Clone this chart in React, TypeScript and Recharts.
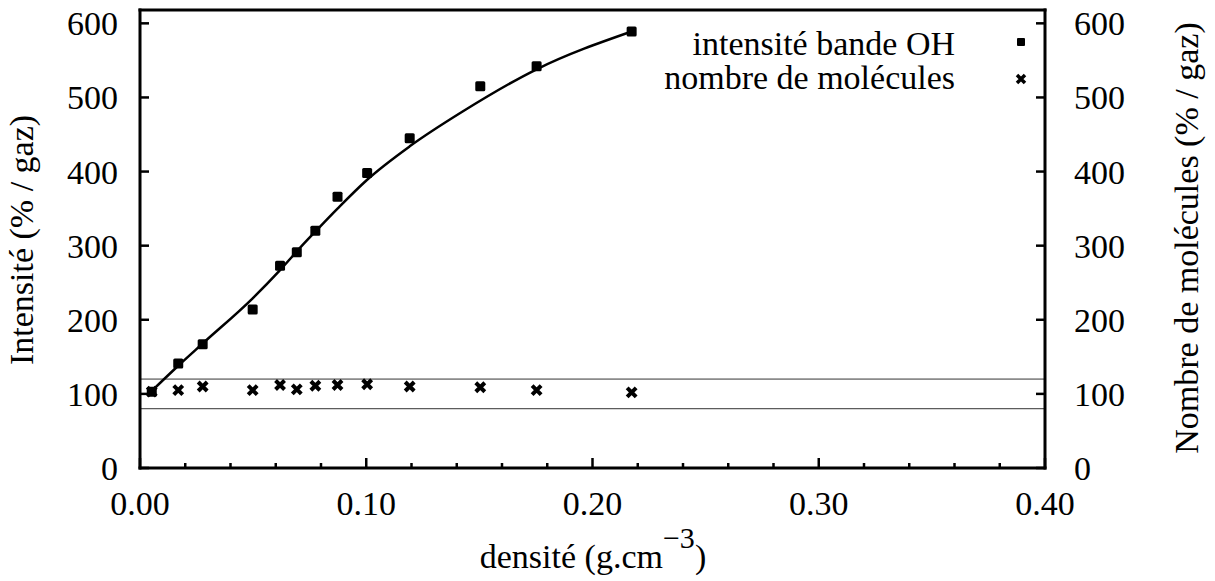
import {
    ComposedChart,
    Line,
    Scatter,
    XAxis,
    YAxis,
    ReferenceLine,
    Legend,
} from "recharts";

// densité (g.cm-3) of the measured samples
const densite = [0.0052, 0.0169, 0.0277, 0.0498, 0.0619, 0.0693, 0.0775, 0.0873, 0.1004, 0.1192, 0.1504, 0.1753, 0.2173];
const intensiteOH = [103, 141, 167, 214, 273, 291, 320, 366, 398, 445, 515, 542, 589];
const nombreMolecules = [103, 105, 110, 105, 112, 106, 111, 112, 113, 110, 109, 105, 102];

// fitted curve
const fitDensite = [0.0035, 0.0169, 0.0277, 0.0498, 0.0619, 0.0707, 0.0775, 0.0873, 0.1004, 0.1192, 0.1426, 0.1753, 0.2173];
const fitIntensite = [99, 138, 168, 229, 267, 297, 319, 350, 389, 434, 481, 538, 589];

const xTicks = [0, 0.02, 0.04, 0.06, 0.08, 0.1, 0.12, 0.14, 0.16, 0.18, 0.2, 0.22, 0.24, 0.26, 0.28, 0.3, 0.32, 0.34, 0.36, 0.38, 0.4];
const yTicks = [0, 100, 200, 300, 400, 500, 600];
const bandLimits = [80, 120];

const ohPoints = densite.map((x, i) => ({ x, y: intensiteOH[i] }));
const molPoints = densite.map((x, i) => ({ x, y: nombreMolecules[i] }));
const fitPoints = fitDensite.map((x, i) => ({ x, y: fitIntensite[i] }));

const FONT = "Liberation Serif, DejaVu Serif, serif";
const isMajor = (v: number) => Math.round(v * 100) % 10 === 0;

const BottomTick = ({ x, y, payload }: any) => {
    const major = isMajor(payload.value);
    return (
        <g>
            <line x1={x} x2={x} y1={y} y2={y - (major ? 10 : 5)} stroke="#000" strokeWidth={2.5} />
            {major && (
                <text x={x} y={y + 47} textAnchor="middle" style={{ fontFamily: FONT }} fontSize={34} fill="#000">
                    {payload.value.toFixed(2)}
                </text>
            )}
        </g>
    );
};

const TopTick = ({ x, y, payload }: any) => {
    const major = isMajor(payload.value);
    return <line x1={x} x2={x} y1={y} y2={y + (major ? 10 : 5)} stroke="#000" strokeWidth={2.5} />;
};

const LeftTick = ({ x, y, payload }: any) => (
    <g>
        <line x1={x} x2={x + 9} y1={y} y2={y} stroke="#000" strokeWidth={2.5} />
        <text x={x - 22} y={y + 12} textAnchor="end" style={{ fontFamily: FONT }} fontSize={34} fill="#000">
            {payload.value}
        </text>
    </g>
);

const RightTick = ({ x, y, payload }: any) => (
    <g>
        <line x1={x} x2={x - 9} y1={y} y2={y} stroke="#000" strokeWidth={2.5} />
        <text x={x + 29} y={y + 12} textAnchor="start" style={{ fontFamily: FONT }} fontSize={34} fill="#000">
            {payload.value}
        </text>
    </g>
);

const SquareDot = ({ cx, cy }: any) => (
    <rect x={cx - 5} y={cy - 5} width={10} height={10} rx={1.5} fill="#000" />
);

const CrossDot = ({ cx, cy }: any) => (
    <path
        d={`M${cx - 4.5},${cy - 4.5}L${cx + 4.5},${cy + 4.5}M${cx - 4.5},${cy + 4.5}L${cx + 4.5},${cy - 4.5}`}
        stroke="#000"
        strokeWidth={4}
    />
);

const renderLegend = ({ payload }: any) => (
    <div style={{ fontFamily: FONT, fontSize: 34, color: "#000" }}>
        {(payload || [])
            .filter((entry: any) => entry.type !== "none")
            .map((entry: any, index: number) => (
                <div key={`item-${index}`} style={{ position: "relative", height: 34, lineHeight: "34px" }}>
                    <span style={{ position: "absolute", right: 90, whiteSpace: "nowrap" }}>{entry.value}</span>
                    <svg width={14} height={14} style={{ position: "absolute", right: 17, top: index === 0 ? 8 : 11 }}>
                        {index === 0 ? (
                            <rect x={3} y={3} width={8} height={8} rx={1} fill="#000" />
                        ) : (
                            <path d="M3,3L11,11M3,11L11,3" stroke="#000" strokeWidth={3.5} />
                        )}
                    </svg>
                </div>
            ))}
    </div>
);

export default function App() {
    return (
        <div style={{ position: "absolute", left: 0, top: 0, width: 1215, height: 581, background: "#fff" }}>
            <ComposedChart width={1215} height={581} margin={{ top: 0, right: 110, bottom: 63, left: 80 }}>
                <XAxis
                    xAxisId="x"
                    dataKey="x"
                    type="number"
                    domain={[0, 0.4]}
                    ticks={xTicks}
                    interval={0}
                    height={50}
                    tickSize={0}
                    tickMargin={0}
                    tickLine={false}
                    axisLine={{ stroke: "#000", strokeWidth: 3, strokeLinecap: "square" }}
                    tick={<BottomTick />}
                    label={{
                        content: () => (
                            <text x={593} y={568} textAnchor="middle" style={{ fontFamily: FONT }} fontSize={34} fill="#000">
                                densité (g.cm
                                <tspan dy={-20} fontSize={30}>−3</tspan>
                                <tspan dy={20}>)</tspan>
                            </text>
                        ),
                    }}
                />
                <XAxis
                    xAxisId="top"
                    dataKey="x"
                    type="number"
                    orientation="top"
                    domain={[0, 0.4]}
                    ticks={xTicks}
                    interval={0}
                    height={10}
                    tickSize={0}
                    tickMargin={0}
                    tickLine={false}
                    axisLine={{ stroke: "#000", strokeWidth: 3, strokeLinecap: "square" }}
                    tick={<TopTick />}
                />
                <YAxis
                    yAxisId="left"
                    dataKey="y"
                    type="number"
                    domain={[0, 618]}
                    ticks={yTicks}
                    interval={0}
                    width={60}
                    tickSize={0}
                    tickMargin={0}
                    tickLine={false}
                    axisLine={{ stroke: "#000", strokeWidth: 3, strokeLinecap: "square" }}
                    tick={<LeftTick />}
                    label={{
                        content: () => (
                            <text
                                x={33}
                                y={240}
                                transform="rotate(-90, 33, 240)"
                                textAnchor="middle"
                                style={{ fontFamily: FONT }}
                                fontSize={34}
                                fill="#000"
                            >
                                Intensité (% / gaz)
                            </text>
                        ),
                    }}
                />
                <YAxis
                    yAxisId="right"
                    dataKey="y"
                    type="number"
                    orientation="right"
                    domain={[0, 618]}
                    ticks={yTicks}
                    interval={0}
                    width={60}
                    tickSize={0}
                    tickMargin={0}
                    tickLine={false}
                    axisLine={{ stroke: "#000", strokeWidth: 3, strokeLinecap: "square" }}
                    tick={<RightTick />}
                    label={{
                        content: () => (
                            <text
                                x={1198}
                                y={238}
                                transform="rotate(-90, 1198, 238)"
                                textAnchor="middle"
                                style={{ fontFamily: FONT }}
                                fontSize={34}
                                fill="#000"
                            >
                                Nombre de molécules (% / gaz)
                            </text>
                        ),
                    }}
                />
                {bandLimits.map((v) => (
                    <ReferenceLine key={v} xAxisId="x" yAxisId="right" y={v} stroke="#333" strokeWidth={1} />
                ))}
                <Line
                    xAxisId="x"
                    yAxisId="left"
                    data={fitPoints}
                    dataKey="y"
                    type="monotone"
                    stroke="#000"
                    strokeWidth={2.5}
                    dot={false}
                    activeDot={false}
                    legendType="none"
                    isAnimationActive={false}
                />
                <Scatter
                    xAxisId="x"
                    yAxisId="left"
                    name="intensité bande OH"
                    data={ohPoints}
                    dataKey="y"
                    fill="#000"
                    shape={<SquareDot />}
                    isAnimationActive={false}
                />
                <Scatter
                    xAxisId="x"
                    yAxisId="right"
                    name="nombre de molécules"
                    data={molPoints}
                    dataKey="y"
                    fill="#000"
                    shape={<CrossDot />}
                    isAnimationActive={false}
                />
                <Legend
                    layout="vertical"
                    align="center"
                    verticalAlign="middle"
                    content={renderLegend}
                    wrapperStyle={{ top: 27, left: 600, width: 445, height: 70 }}
                />
            </ComposedChart>
        </div>
    );
}
